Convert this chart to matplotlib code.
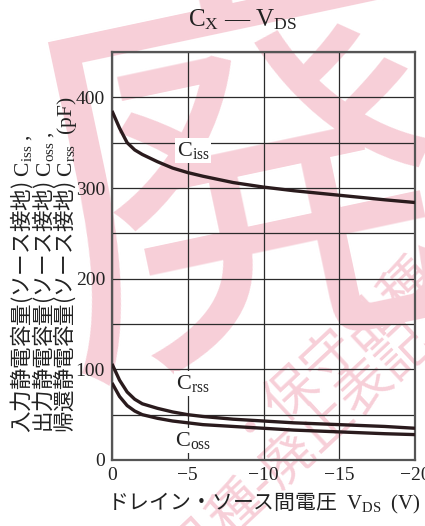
import numpy as np
import matplotlib
matplotlib.use("Agg")
import matplotlib.pyplot as plt

# ドレイン・ソース間電圧 (V) と各容量 (pF)
vds = [0, -0.5, -1, -1.5, -2, -3, -4, -5, -6, -8, -10, -12, -15, -18, -20]
c_iss = [385, 366, 350, 342, 337, 329, 322, 317, 313, 306, 301, 297, 292, 287, 284]
c_rss = [106, 88, 75, 67, 62, 57, 53, 50, 48, 45, 43, 41, 39, 37, 35]
c_oss = [85, 70, 60, 54, 50, 46, 43, 41, 39, 37, 35, 33, 31, 29, 28]

x_ticks = [0, -5, -10, -15, -20]
y_ticks = list(range(0, 451, 50))
y_labels = [str(v) if v % 100 == 0 and v < 450 else "" for v in y_ticks]

ylabel_lines = [
    "入力静電容量(ソース接地)$\\mathrm{\\ C_{iss}\\ ,}$",
    "出力静電容量(ソース接地)$\\mathrm{\\ C_{oss}\\ ,}$",
    "帰還静電容量(ソース接地)$\\mathrm{\\ C_{rss}\\ \\ (pF)}$",
]
xlabel = "ドレイン・ソース間電圧$\\mathrm{\\ \\ V_{DS}\\ \\ (V)}$"

plt.rcParams["mathtext.fontset"] = "custom"
plt.rcParams["mathtext.rm"] = "Liberation Serif"
plt.rcParams["mathtext.it"] = "Liberation Serif:italic"
plt.rcParams["mathtext.bf"] = "Liberation Serif:bold"
plt.rcParams["font.family"] = ["Liberation Serif", "Noto Sans CJK JP"]

W, H = 425, 526
fig = plt.figure(figsize=(W / 100, H / 100), dpi=100)
fig.patch.set_facecolor("white")

# 背景の透かし
wm = "#f7cfd8"
jp = ["Noto Sans CJK JP"]
fig.text(245 / W, 1 - 200 / H, "廃", fontsize=300, color=wm, family=jp,
         rotation=12, ha="center", va="center", zorder=-5)
fig.text(325 / W, 1 - 345 / H, "・保守品種", fontsize=38, color=wm, family=jp,
         rotation=43, ha="center", va="center", zorder=-5)
fig.text(300 / W, 1 - 445 / H, "品種-廃止表記", fontsize=38, color=wm, family=jp,
         rotation=43, ha="center", va="center", zorder=-5)

ax = fig.add_axes([112 / W, 1 - 460 / H, (415 - 112) / W, (460 - 52) / H])
ax.patch.set_alpha(0)

line_color = "#2a1b1d"
ax.plot(vds, c_iss, color=line_color, lw=2.4, solid_capstyle="butt", zorder=4)
ax.plot(vds, c_rss, color=line_color, lw=2.4, solid_capstyle="butt", zorder=4)
ax.plot(vds, c_oss, color=line_color, lw=2.4, solid_capstyle="butt", zorder=4)

ax.set_xlim(0, -20)
ax.set_ylim(0, 450)
ax.set_xticks(x_ticks)
ax.set_xticklabels(["0", "\u22125", "\u221210", "\u221215", "\u221220"])
ax.set_yticks(y_ticks)
ax.set_yticklabels(y_labels)
ax.tick_params(length=0, labelsize=14, pad=5, colors="#222222")
ax.grid(True, color="#2b2b2b", lw=0.9)
ax.set_axisbelow(True)
for s in ax.spines.values():
    s.set_color("#555555")
    s.set_linewidth(1.6)

box = dict(facecolor="white", edgecolor="none", pad=1.5)
for yv, name in [(341, "iss"), (84, "rss"), (22, "oss")]:
    ax.text(-5.35, yv, "$\\mathrm{C_{%s}}$" % name, fontsize=16, ha="center",
            va="center", bbox=box, zorder=3, color="#222222")

# タイトル
fig.text(243 / W, 1 - 20 / H, "$\\mathrm{C_X}$ — $\\mathrm{V_{DS}}$", fontsize=18,
         ha="center", va="center", color="#222222")

# 軸ラベル
fig.text(107 / W, 1 - 503 / H, xlabel, fontsize=15, family=jp,
         ha="left", va="center", color="#222222")
for i, s in enumerate(ylabel_lines):
    fig.text((22 + 21.5 * i) / W, 1 - 433 / H, s, fontsize=15.5, family=jp,
             rotation=90, ha="center", va="bottom", color="#222222")

fig.savefig("out.png", dpi=100)
